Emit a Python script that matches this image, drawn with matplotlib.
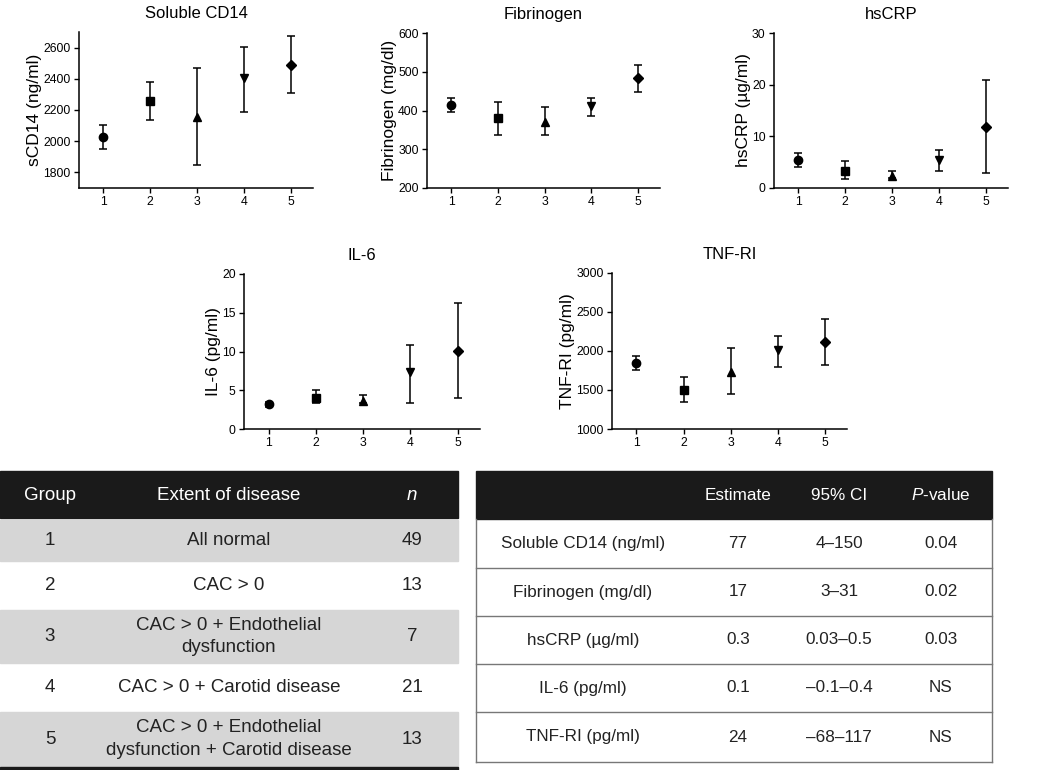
import numpy as np
import matplotlib
matplotlib.use('Agg')
import matplotlib.pyplot as plt
from matplotlib.patches import Rectangle

plt.rcParams['font.family'] = ['Liberation Sans', 'DejaVu Sans']
plt.rcParams['mathtext.fontset'] = 'custom'
plt.rcParams['mathtext.rm'] = 'Liberation Sans'
plt.rcParams['mathtext.it'] = 'Liberation Sans:italic'

groups = [1, 2, 3, 4, 5]
markers = ['o', 's', '^', 'v', 'D']

cd14_mean = [2030, 2258, 2155, 2405, 2490]
cd14_lo = [1950, 2135, 1845, 2185, 2310]
cd14_hi = [2105, 2380, 2470, 2605, 2675]

fib_mean = [415, 380, 370, 412, 483]
fib_lo = [397, 337, 338, 387, 448]
fib_hi = [433, 423, 410, 433, 518]

crp_mean = [5.4, 3.3, 2.4, 5.5, 11.8]
crp_lo = [4.1, 1.8, 1.9, 3.2, 3.0]
crp_hi = [6.8, 5.2, 3.2, 7.4, 20.9]

il6_mean = [3.2, 4.0, 3.6, 7.4, 10.1]
il6_lo = [2.9, 3.3, 3.3, 3.4, 4.0]
il6_hi = [3.5, 5.0, 4.4, 10.8, 16.2]

tnf_mean = [1850, 1505, 1735, 2015, 2115]
tnf_lo = [1760, 1345, 1450, 1790, 1820]
tnf_hi = [1940, 1670, 2040, 2190, 2410]

# group table
grp_ids = ['1', '2', '3', '4', '5']
grp_desc = ['All normal', 'CAC > 0', 'CAC > 0 + Endothelial\ndysfunction',
            'CAC > 0 + Carotid disease',
            'CAC > 0 + Endothelial\ndysfunction + Carotid disease']
grp_n = ['49', '13', '7', '21', '13']

# estimate table
est_labels = ['Soluble CD14 (ng/ml)', 'Fibrinogen (mg/dl)', 'hsCRP (\u00b5g/ml)',
              'IL-6 (pg/ml)', 'TNF-RI (pg/ml)']
est_values = ['77', '17', '0.3', '0.1', '24']
est_ci = ['4\u2013150', '3\u201331', '0.03\u20130.5', '\u20130.1\u20130.4', '\u201368\u2013117']
est_p = ['0.04', '0.02', '0.03', 'NS', 'NS']

W, H = 1050, 770
fig = plt.figure(figsize=(10.5, 7.7), dpi=100)


def px_axes(left, right, top, bottom):
    return fig.add_axes([left / W, (H - bottom) / H, (right - left) / W, (bottom - top) / H])


def panel(ax, title, ylabel, mean, lo, hi, ylim, yticks):
    for g, m, l, h, mk in zip(groups, mean, lo, hi, markers):
        ax.errorbar(g, m, yerr=[[m - l], [h - m]], fmt=mk, color='black',
                    ms=6 if mk != 'D' else 5.5, capsize=3, elinewidth=1.1, capthick=1.1)
    ax.set_xlim(0.48, 5.47)
    ax.set_ylim(*ylim)
    ax.set_xticks(groups)
    ax.set_yticks(yticks)
    ax.spines['top'].set_visible(False)
    ax.spines['right'].set_visible(False)
    for s in ('left', 'bottom'):
        ax.spines[s].set_linewidth(1.1)
    ax.tick_params(labelsize=8.8, length=3.5, width=1.0, pad=2.5)
    ax.set_title(title, fontsize=12, pad=10)
    ax.set_ylabel(ylabel, fontsize=12.5, labelpad=1)


ax1 = px_axes(79, 313, 32, 188)
panel(ax1, 'Soluble CD14', 'sCD14 (ng/ml)', cd14_mean, cd14_lo, cd14_hi,
      (1700, 2700), [1800, 2000, 2200, 2400, 2600])
ax2 = px_axes(427, 660, 33, 188)
panel(ax2, 'Fibrinogen', 'Fibrinogen (mg/dl)', fib_mean, fib_lo, fib_hi,
      (200, 600), [200, 300, 400, 500, 600])
ax3 = px_axes(774, 1008, 33, 188)
panel(ax3, 'hsCRP', 'hsCRP (\u00b5g/ml)', crp_mean, crp_lo, crp_hi,
      (0, 30), [0, 10, 20, 30])
ax4 = px_axes(244, 480, 274, 429)
panel(ax4, 'IL-6', 'IL-6 (pg/ml)', il6_mean, il6_lo, il6_hi,
      (0, 20), [0, 5, 10, 15, 20])
ax5 = px_axes(612, 847, 273, 429)
panel(ax5, 'TNF-RI', 'TNF-RI (pg/ml)', tnf_mean, tnf_lo, tnf_hi,
      (1000, 3000), [1000, 1500, 2000, 2500, 3000])

# tables drawn on an overlay in pixel coordinates
tb = fig.add_axes([0, 0, 1, 1], zorder=-1)
tb.set_xlim(0, W)
tb.set_ylim(H, 0)
tb.axis('off')

fs_l = 13.5
fs_r = 12.3
dark = '#1a1a1a'
txt = '#222222'

# left table
tb.add_patch(Rectangle((0, 471), 458, 47, color=dark))
tb.text(50, 495, 'Group', color='white', fontsize=fs_l, ha='center', va='center')
tb.text(229, 495, 'Extent of disease', color='white', fontsize=fs_l, ha='center', va='center')
tb.text(412, 495, 'n', color='white', fontsize=fs_l, ha='center', va='center', style='italic')
row_edges = [519, 562, 609, 664, 711, 767]
for i in range(5):
    top, bot = row_edges[i], row_edges[i + 1]
    if i % 2 == 0:
        tb.add_patch(Rectangle((0, top + 1), 458, bot - top - 2, color='#d6d6d6'))
    yc = (top + bot) / 2
    tb.text(50, yc, grp_ids[i], color=txt, fontsize=fs_l, ha='center', va='center')
    tb.text(229, yc, grp_desc[i], color=txt, fontsize=fs_l, ha='center', va='center',
            linespacing=1.42)
    tb.text(412, yc, grp_n[i], color=txt, fontsize=fs_l, ha='center', va='center')
tb.add_patch(Rectangle((0, 767), 458, 3, color=dark))

# right table
x0, x1 = 476, 992
tb.add_patch(Rectangle((x0, 471), x1 - x0, 48, color=dark))
tb.text(738, 495, 'Estimate', color='white', fontsize=fs_r, ha='center', va='center')
tb.text(839, 495, '95% CI', color='white', fontsize=fs_r, ha='center', va='center')
tb.text(941, 495, r'$\mathit{P}$-value', color='white', fontsize=fs_r, ha='center', va='center')
est_edges = [519, 568, 616, 664, 712, 762]
for i in range(5):
    top, bot = est_edges[i], est_edges[i + 1]
    yc = (top + bot) / 2
    tb.plot([x0, x1], [bot, bot], color='#777777', lw=1)
    tb.text(583, yc, est_labels[i], color=txt, fontsize=fs_r, ha='center', va='center')
    tb.text(738, yc, est_values[i], color=txt, fontsize=fs_r, ha='center', va='center')
    tb.text(839, yc, est_ci[i], color=txt, fontsize=fs_r, ha='center', va='center')
    tb.text(941, yc, est_p[i], color=txt, fontsize=fs_r, ha='center', va='center')
tb.plot([x0, x0], [519, 762], color='#777777', lw=1)
tb.plot([x1, x1], [519, 762], color='#777777', lw=1)

fig.savefig('out.png', dpi=100)
